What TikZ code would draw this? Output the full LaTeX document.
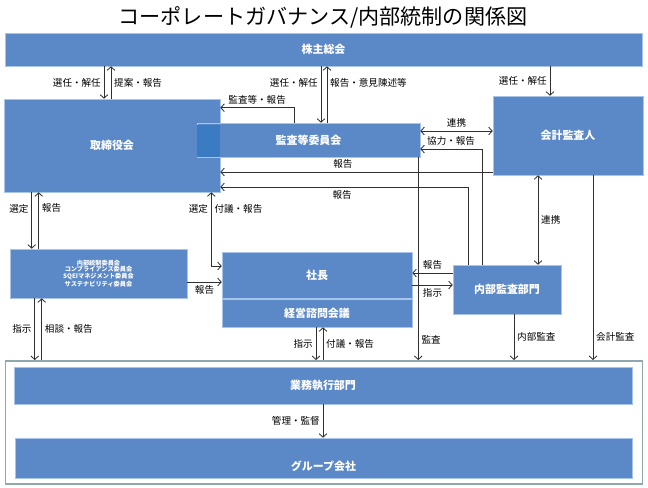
\documentclass[tikz,border=0pt]{standalone}
\usepackage{fontspec}
\setmainfont{Noto Sans CJK JP}
\usetikzlibrary{arrows.meta}
\definecolor{boxblue}{HTML}{5B88C6}
\definecolor{boxedge}{HTML}{A9C4EA}
\definecolor{overlapblue}{HTML}{3A7BC2}
\definecolor{framegray}{HTML}{8DA9A9}
\definecolor{linegray}{HTML}{303030}
\newdimen\px \px=0.025cm
\begin{document}
\begin{tikzpicture}[x=0.025cm,y=-0.025cm,
  box/.style={draw=boxedge,line width=0.4pt,fill=boxblue,text=white,inner sep=0pt,
    font=\fontsize{7.8}{9}\selectfont\bfseries},
  lbl/.style={font=\fontsize{6.8}{8}\selectfont,text=black,inner sep=2pt},
  arr/.style={draw=linegray,line width=0.6pt,-{Straight Barb[length=2.5pt,width=5.5pt]}},
  dbl/.style={draw=linegray,line width=0.6pt,
    {Straight Barb[length=2.5pt,width=5.5pt]}-{Straight Barb[length=2.5pt,width=5.5pt]}}]
  \useasboundingbox (0,0) rectangle (648,487);
  \node (title) at (323,17) {\fontsize{15}{18}\selectfont コーポレートガバナンス/内部統制の関係図};
  % frame round the execution side
  \node[draw=framegray,line width=1.4pt,minimum width=637\px,minimum height=123\px,inner sep=0pt]
    (grp) at (324,422.5) {};
  \node[box,minimum width=637\px,minimum height=33\px] (sh) at (323.5,49.5) {株主総会};
  \node[box,minimum width=216\px,minimum height=93\px] (bd) at (112,145.5) {取締役会};
  \node[box,minimum width=223\px,minimum height=34\px] (ac) at (308.5,140) {監査等委員会};
  \fill[overlapblue] ([yshift=-2\px]ac.north west) rectangle (bd.east |- ac.south);
  \node[box,minimum width=150\px,minimum height=79\px] (ea) at (568,135.5) {会計監査人};
  \node[box,minimum width=177\px,minimum height=49\px,align=center,
    font=\fontsize{4.4}{4.6}\selectfont\bfseries] (cm) at (98.5,273.5)
    {内部統制委員会\\コンプライアンス委員会\\SQEIマネジメント委員会\\サステナビリティ委員会};
  \node[box,minimum width=190\px,minimum height=46\px] (pr) at (317,275) {社長};
  \node[box,minimum width=190\px,minimum height=28\px] (mc) at (317,313) {経営諮問会議};
  \node[box,minimum width=108\px,minimum height=49\px] (ia) at (507,289.5) {内部監査部門};
  \node[box,minimum width=618\px,minimum height=37\px] (ex) at (323,385.5) {業務執行部門};
  \node[box,minimum width=617\px,minimum height=40\px,text height=27\px] (gc) at (323.5,458) {グループ会社};
  % shareholders
  \draw[arr] ([xshift=-8\px]bd.north |- sh.south) -- node[lbl,left] {選任・解任} ([xshift=-8\px]bd.north);
  \draw[arr] ([xshift=-1\px]bd.north) -- node[lbl,right] {提案・報告} ([xshift=-1\px]bd.north |- sh.south);
  \draw[arr] ([xshift=12.5\px]ac.north |- sh.south) -- node[lbl,pos=.3,left] {選任・解任} ([xshift=12.5\px]ac.north);
  \draw[arr] ([xshift=18.5\px]ac.north) -- node[lbl,pos=.7,right] {報告・意見陳述等} ([xshift=18.5\px]ac.north |- sh.south);
  \draw[arr] ([xshift=-18\px]ea.north |- sh.south) -- node[lbl,left] {選任・解任} ([xshift=-18\px]ea.north);
  % audit side
  \draw[arr] ([xshift=-14.5\px]ac.north) |- node[lbl,pos=.75,above] {監査等・報告} ([yshift=-9\px]bd.north east);
  \draw[dbl] ([yshift=9\px]ac.east) -- node[lbl,above] {連携} ([yshift=9\px]ac.east -| ea.west);
  \draw[arr] ([xshift=-25\px]ia.north) |- node[lbl,pos=.75,above] {協力・報告} ([yshift=-9\px]ac.east);
  \draw[arr] ([yshift=-26.5\px]bd.east -| ea.west) -- node[lbl,pos=.55,above] {報告} ([yshift=-26.5\px]bd.east);
  \draw[arr] ([xshift=-39\px]ia.north) |- node[lbl,pos=.754,below] {報告} ([yshift=-41.5\px]bd.east);
  \draw[arr] ([xshift=-2\px]ac.south east) -- node[lbl,pos=.9,right] {監査} ([xshift=-2\px]ac.south east |- grp.north);
  \draw[arr] ([xshift=25\px]ea.south) -- node[lbl,pos=.876,right] {会計監査} ([xshift=25\px]ea.south |- grp.north);
  \draw[arr] ([xshift=7\px]ia.south) -- node[lbl,right] {内部監査} ([xshift=7\px]ia.south |- grp.north);
  \draw[dbl] ([xshift=-30\px]ea.south) -- node[lbl,right] {連携} ([xshift=-30\px]ea.south |- ia.north);
  \draw[arr] ([yshift=16.5\px]ia.west) -- node[lbl,above] {報告} ([yshift=16.5\px]ia.west -| pr.east);
  \draw[arr] ([yshift=-10\px]pr.east) -- node[lbl,below] {指示} ([yshift=-10\px]pr.east -| ia.west);
  % board, committees and president
  \draw[arr] ([xshift=28\px]bd.south west) -- node[lbl,pos=.3,left] {選定} ([xshift=28\px]bd.south west |- cm.north);
  \draw[arr] ([xshift=35\px]bd.south west |- cm.north) -- node[lbl,pos=.72,right] {報告} ([xshift=35\px]bd.south west);
  \draw[dbl] ([xshift=-9\px]bd.south east) |- node[lbl,pos=.11,left] {選定}
    node[lbl,pos=.11,right] {付議・報告} ([yshift=9\px]pr.west);
  \draw[arr] ([yshift=-8.5\px]cm.east) -- node[lbl,below] {報告} ([yshift=-8.5\px]cm.east -| pr.west);
  \draw[arr] ([xshift=25\px]cm.south west) -- node[lbl,left] {指示} ([xshift=25\px]cm.south west |- grp.north);
  \draw[arr] ([xshift=32\px]cm.south west |- grp.north) -- node[lbl,right] {相談・報告} ([xshift=32\px]cm.south west);
  \draw[arr] ([xshift=-1\px]mc.south) -- node[lbl,left] {指示} ([xshift=-1\px]mc.south |- grp.north);
  \draw[arr] ([xshift=6\px]mc.south |- grp.north) -- node[lbl,right] {付議・報告} ([xshift=6\px]mc.south);
  \draw[arr] (ex.south) -- node[lbl,left] {管理・監督} (ex.south |- gc.north);
\end{tikzpicture}
\end{document}
